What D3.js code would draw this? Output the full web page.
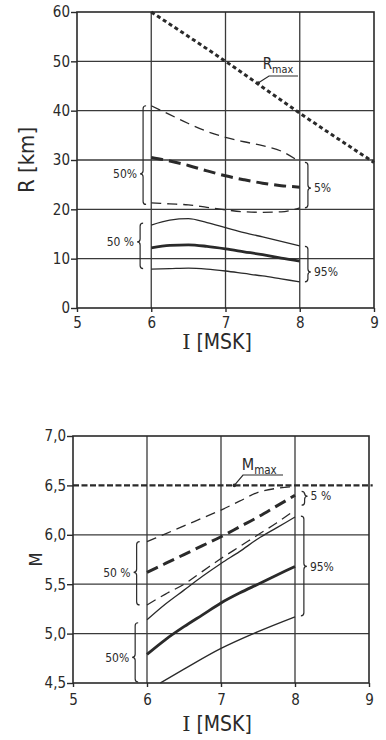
<!DOCTYPE html>
<html lang="de">
<head>
<meta charset="UTF-8">
<title>R und M gegen I [MSK]</title>
<script src="https://d3js.org/d3.v7.min.js"></script>
<style>
  body { margin: 0; background: #fff; }
  text { font-family: "DejaVu Sans Condensed", "DejaVu Sans", sans-serif; fill: #2a2a2a; }
</style>
</head>
<body>
<script>
// ---- data ----
var iTicks = [5, 6, 7, 8, 9];
var rTicks = [0, 10, 20, 30, 40, 50, 60];
var mTicks = [4.5, 5.0, 5.5, 6.0, 6.5, 7.0];

var stepI = [6, 6.25, 6.5, 6.75, 7, 7.25, 7.5, 7.75, 8];

// upper panel: distance R [km]
var rmaxI = [6, 7, 8, 9];
var rmaxR = [60, 50, 39.5, 29.5];
var rDashHi  = [41.0, 39.2, 37.4, 35.8, 34.6, 33.7, 32.9, 31.8, 29.6];
var rDashMid = [30.5, 29.8, 28.9, 27.8, 26.8, 26.0, 25.3, 24.8, 24.5];
var rDashLo  = [21.3, 21.1, 20.9, 20.4, 19.9, 19.5, 19.4, 19.5, 20.3];
var rSolidHi  = [16.8, 17.8, 18.1, 17.3, 16.3, 15.3, 14.4, 13.5, 12.6];
var rSolidMid = [12.2, 12.7, 12.8, 12.5, 12.0, 11.4, 10.8, 10.1, 9.5];
var rSolidLo  = [7.9, 8.0, 8.1, 7.9, 7.5, 7.0, 6.5, 5.9, 5.3];

// lower panel: magnitude M
var mmaxI = [5, 9.05];
var mmaxM = [6.5, 6.5];
var mDashHi  = [5.93, 6.01, 6.09, 6.17, 6.25, 6.34, 6.43, 6.47, 6.49];
var mDashMid = [5.62, 5.71, 5.80, 5.89, 5.98, 6.08, 6.18, 6.29, 6.40];
var mDashLo  = [5.29, 5.40, 5.50, 5.63, 5.76, 5.88, 6.00, 6.12, 6.25];
var mSolidHi  = [5.14, 5.30, 5.44, 5.58, 5.71, 5.83, 5.96, 6.07, 6.18];
var mSolidMid = [4.79, 4.94, 5.07, 5.19, 5.31, 5.41, 5.50, 5.59, 5.68];
var mSolidLoI = [6.18, 6.5, 7, 7.5, 8];
var mSolidLo  = [4.50, 4.64, 4.85, 5.02, 5.17];

// braces: at I, from lo to hi, tip value, label
var rBraces = [
  {at: 5.89, lo: 21.0, hi: 41.0, tip: 27.2, label: "50%", side: "left"},
  {at: 5.85, lo: 8.0, hi: 17.2, tip: 13.4, label: "50 %", side: "left"},
  {at: 8.11, lo: 20.3, hi: 29.5, tip: 24.3, label: "5%", side: "right"},
  {at: 8.11, lo: 5.3, hi: 12.5, tip: 7.3, label: "95%", side: "right"}
];
var mBraces = [
  {at: 5.86, lo: 5.29, hi: 5.93, tip: 5.62, label: "50 %", side: "left"},
  {at: 5.84, lo: 4.51, hi: 5.11, tip: 4.76, label: "50%", side: "left"},
  {at: 8.13, lo: 6.30, hi: 6.44, tip: 6.39, label: "5 %", side: "right"},
  {at: 8.12, lo: 5.18, hi: 6.19, tip: 5.68, label: "95%", side: "right"}
];

// ---- styles ----
var ink = "#2a2a2a";
var styles = {
  thinDash:  {w: 1.3, dash: "10,6"},
  thickDash: {w: 3.0, dash: "12,6"},
  thinSolid: {w: 1.3, dash: null},
  thickSolid:{w: 2.8, dash: null},
  rmax:      {w: 3.0, dash: "4,3"},
  mmax:      {w: 2.2, dash: "6,2.5"}
};

var svg = d3.select("body").append("svg")
  .attr("width", 386)
  .attr("height", 740);

function commaFmt(d) { return d3.format(".1f")(d).replace(".", ","); }

function brace(x, y1, y2, ym, dir) {
  var r = 3;
  return "M" + (x - dir * r) + "," + y1 +
    " Q" + x + "," + y1 + " " + x + "," + (y1 + r) +
    " L" + x + "," + (ym - r) +
    " Q" + x + "," + ym + " " + (x + dir * r) + "," + ym +
    " Q" + x + "," + ym + " " + x + "," + (ym + r) +
    " L" + x + "," + (y2 - r) +
    " Q" + x + "," + y2 + " " + (x - dir * r) + "," + y2;
}

function panel(p) {
  var g = svg.append("g");
  var x = p.x, y = p.y;
  var x0 = x.range()[0], x1 = x.range()[1];
  var yb = y.range()[0], yt = y.range()[1];

  // grid
  g.append("g")
    .selectAll("line.v")
    .data(iTicks.slice(1, -1))
    .enter().append("line")
    .attr("x1", function(d) { return x(d); })
    .attr("x2", function(d) { return x(d); })
    .attr("y1", yb).attr("y2", yt)
    .attr("stroke", "#3a3a3a").attr("stroke-width", 1.3);
  g.append("g")
    .selectAll("line.h")
    .data(p.yTicks.slice(1, -1).filter(function(d) { return p.skipGrid.indexOf(d) < 0; }))
    .enter().append("line")
    .attr("x1", x0).attr("x2", x1)
    .attr("y1", function(d) { return y(d); })
    .attr("y2", function(d) { return y(d); })
    .attr("stroke", "#3a3a3a").attr("stroke-width", 1.3);

  // frame
  g.append("rect")
    .attr("x", x0).attr("y", yt)
    .attr("width", x1 - x0).attr("height", yb - yt)
    .attr("fill", "none").attr("stroke", ink).attr("stroke-width", 1.6);

  // axes
  var ay = g.append("g").attr("transform", "translate(" + x0 + ",0)")
    .call(d3.axisLeft(y).tickValues(p.yTicks).tickSize(6).tickPadding(1).tickFormat(p.fmt));
  var ax = g.append("g").attr("transform", "translate(0," + yb + ")")
    .call(d3.axisBottom(x).tickValues(iTicks).tickSize(4).tickPadding(p.xPad).tickFormat(d3.format("d")));
  [ay, ax].forEach(function(a) {
    a.select(".domain").remove();
    a.selectAll("line").attr("stroke", ink).attr("stroke-width", 1.4);
    a.selectAll("text").attr("font-size", 15).style("fill", ink)
      .attr("font-family", "\"DejaVu Sans Condensed\", \"DejaVu Sans\", sans-serif");
  });

  // curves
  p.curves.forEach(function(c) {
    var st = styles[c.style];
    var pts = c.xs.map(function(d, i) { return [d, c.ys[i]]; });
    var line = d3.line()
      .x(function(d) { return x(d[0]); })
      .y(function(d) { return y(d[1]); })
      .curve(c.straight ? d3.curveLinear : d3.curveMonotoneX);
    g.append("path")
      .attr("d", line(pts))
      .attr("fill", "none")
      .attr("stroke", ink)
      .attr("stroke-width", st.w)
      .attr("stroke-dasharray", st.dash)
      .attr("stroke-linecap", "butt");
  });

  // braces
  p.braces.forEach(function(b) {
    var dir = b.side === "left" ? -1 : 1;
    var bx = x(b.at);
    g.append("path")
      .attr("d", brace(bx, y(b.hi), y(b.lo), y(b.tip), dir))
      .attr("fill", "none").attr("stroke", ink).attr("stroke-width", 1.2);
    g.append("text")
      .attr("x", bx + dir * 6)
      .attr("y", y(b.tip))
      .attr("dy", "0.35em")
      .attr("text-anchor", b.side === "left" ? "end" : "start")
      .attr("font-size", 12)
      .text(b.label);
  });

  // max label with leader
  var ml = p.maxLabel;
  var t = g.append("text")
    .attr("x", x(ml.at)).attr("y", ml.baseY)
    .attr("font-size", ml.size);
  t.append("tspan").text(ml.letter);
  t.append("tspan").attr("font-size", ml.size * 0.72).attr("dy", 4).text("max");
  g.append("path")
    .attr("d", "M" + ml.ux1 + "," + ml.uy + " L" + ml.ux0 + "," + ml.uy +
      " L" + x(ml.leadI) + "," + y(ml.leadV))
    .attr("fill", "none").attr("stroke", ink).attr("stroke-width", 1.2);
  g.append("circle")
    .attr("cx", x(ml.leadI)).attr("cy", y(ml.leadV)).attr("r", 1.8).attr("fill", ink);

  // axis titles
  g.append("text")
    .attr("transform", "translate(" + p.yTitle.x + "," + ((yb + yt) / 2) + ") rotate(-90)")
    .attr("text-anchor", "middle")
    .attr("font-size", p.yTitle.size)
    .text(p.yTitle.text);
  var xt = g.append("text")
    .attr("x", 217).attr("y", p.xTitleY)
    .attr("text-anchor", "middle")
    .attr("font-size", 21);
  xt.append("tspan").attr("font-family", "\"DejaVu Serif\", serif").text("I");
  xt.append("tspan").text(" [MSK]");
}

// upper panel
panel({
  x: d3.scaleLinear().domain([5, 9]).range([77, 374]),
  y: d3.scaleLinear().domain([0, 60]).range([308, 12]),
  yTicks: rTicks,
  skipGrid: [],
  fmt: d3.format("d"),
  xPad: 5,
  curves: [
    {xs: rmaxI, ys: rmaxR, style: "rmax"},
    {xs: stepI, ys: rDashHi, style: "thinDash"},
    {xs: stepI, ys: rDashMid, style: "thickDash"},
    {xs: stepI, ys: rDashLo, style: "thinDash"},
    {xs: stepI, ys: rSolidHi, style: "thinSolid"},
    {xs: stepI, ys: rSolidMid, style: "thickSolid"},
    {xs: stepI, ys: rSolidLo, style: "thinSolid"}
  ],
  braces: rBraces,
  maxLabel: {letter: "R", at: 7.5, baseY: 69, size: 15, ux0: 269, ux1: 298, uy: 76, leadI: 7.44, leadV: 45.6},
  yTitle: {text: "R [km]", x: 34, size: 22},
  xTitleY: 349
});

// lower panel
panel({
  x: d3.scaleLinear().domain([5, 9]).range([73, 369]),
  y: d3.scaleLinear().domain([4.5, 7.0]).range([683, 436]),
  yTicks: mTicks,
  skipGrid: [6.5],
  fmt: commaFmt,
  xPad: 7,
  curves: [
    {xs: mmaxI, ys: mmaxM, style: "mmax", straight: true},
    {xs: stepI, ys: mDashHi, style: "thinDash"},
    {xs: stepI, ys: mDashMid, style: "thickDash"},
    {xs: stepI, ys: mDashLo, style: "thinDash"},
    {xs: stepI, ys: mSolidHi, style: "thinSolid"},
    {xs: stepI, ys: mSolidMid, style: "thickSolid"},
    {xs: mSolidLoI, ys: mSolidLo, style: "thinSolid"}
  ],
  braces: mBraces,
  maxLabel: {letter: "M", at: 7.28, baseY: 470, size: 16, ux0: 243, ux1: 283, uy: 475, leadI: 7.18, leadV: 6.5},
  yTitle: {text: "M", x: 42, size: 18},
  xTitleY: 731
});
</script>
</body>
</html>
